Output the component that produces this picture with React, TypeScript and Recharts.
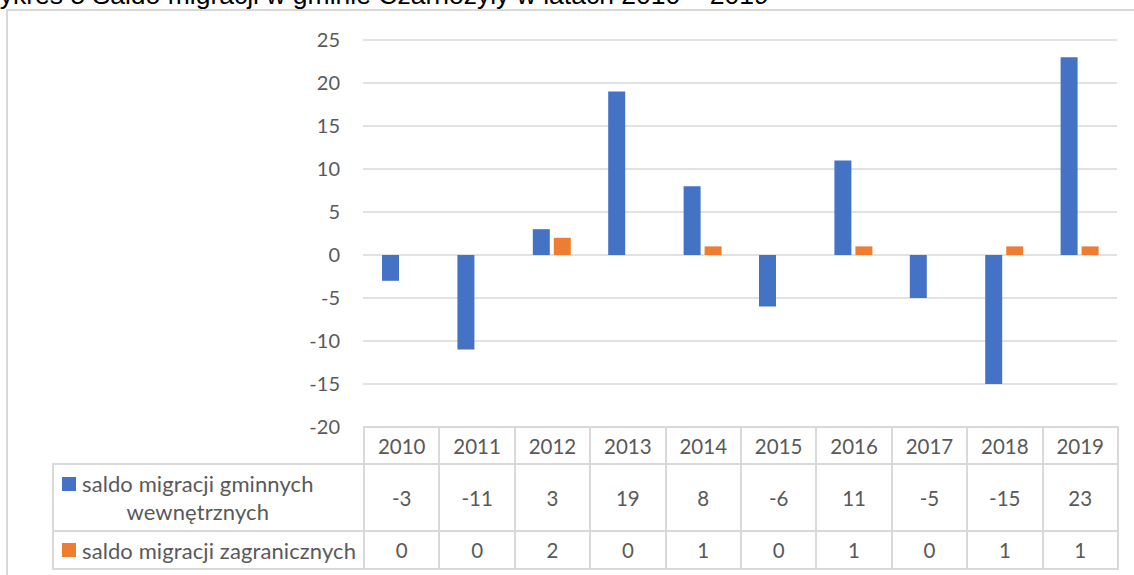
import { BarChart, Bar, XAxis, YAxis, CartesianGrid } from 'recharts';

const years = ['2010', '2011', '2012', '2013', '2014', '2015', '2016', '2017', '2018', '2019'];
const internalBalance = [-3, -11, 3, 19, 8, -6, 11, -5, -15, 23];
const foreignBalance = [0, 0, 2, 0, 1, 0, 1, 0, 1, 1];
const yTicks = [-20, -15, -10, -5, 0, 5, 10, 15, 20, 25];

const internalLabel = ['saldo migracji gminnych', 'wewnętrznych'];
const foreignLabel = 'saldo migracji zagranicznych';
const title = 'Wykres 5 Saldo migracji w gminie Czarnożyły w latach 2010 – 2019';

const BLUE = '#4472C4';
const ORANGE = '#ED7D31';
const GRID = '#d9d9d9';
const TEXT = '#595959';
const FONT = 'Lato, "Open Sans", sans-serif';

const data = years.map((year, i) => ({
  year,
  internal: internalBalance[i],
  foreign: foreignBalance[i],
}));

const COL_W = 75.4;
const LABEL_W = 311;

const cellBorder = `2px solid ${GRID}`;

function Swatch({ color }: { color: string }) {
  return (
    <span
      style={{
        display: 'inline-block',
        width: 14,
        height: 14,
        background: color,
        marginRight: 6,
        flexShrink: 0,
      }}
    />
  );
}

function DataTable() {
  const td = {
    border: cellBorder,
    padding: 0,
    textAlign: 'center' as const,
    verticalAlign: 'middle' as const,
  };
  const labelText = { fontSize: 22, letterSpacing: 0.1 };
  return (
    <table
      style={{
        position: 'absolute',
        left: 52,
        top: 426,
        borderCollapse: 'collapse',
        tableLayout: 'fixed',
        width: LABEL_W + COL_W * years.length,
        fontFamily: FONT,
        fontSize: 20.5,
        color: TEXT,
      }}
    >
      <colgroup>
        <col style={{ width: LABEL_W }} />
        {years.map((y) => (
          <col key={y} style={{ width: COL_W }} />
        ))}
      </colgroup>
      <tbody>
        <tr style={{ height: 37 }}>
          <td style={{ ...td, borderTop: 'hidden', borderLeft: 'hidden' }} />
          {years.map((y) => (
            <td key={y} style={td}>
              {y}
            </td>
          ))}
        </tr>
        <tr style={{ height: 67 }}>
          <td style={{ ...td, textAlign: 'left' }}>
            <div style={{ display: 'flex', alignItems: 'flex-start', paddingLeft: 8, lineHeight: '28px', ...labelText }}>
              <span style={{ marginTop: 7, display: 'flex' }}>
                <Swatch color={BLUE} />
              </span>
              <div style={{ textAlign: 'center' }}>
                {internalLabel[0]}
                <br />
                {internalLabel[1]}
              </div>
            </div>
          </td>
          {internalBalance.map((v, i) => (
            <td key={i} style={td}>
              {v}
            </td>
          ))}
        </tr>
        <tr style={{ height: 38 }}>
          <td style={{ ...td, textAlign: 'left' }}>
            <div style={{ display: 'flex', alignItems: 'center', paddingLeft: 8, whiteSpace: 'nowrap', ...labelText }}>
              <Swatch color={ORANGE} />
              {foreignLabel}
            </div>
          </td>
          {foreignBalance.map((v, i) => (
            <td key={i} style={td}>
              {v}
            </td>
          ))}
        </tr>
      </tbody>
    </table>
  );
}

export default function App() {
  return (
    <div
      style={{
        position: 'absolute',
        left: 0,
        top: 0,
        width: 1134,
        height: 575,
        overflow: 'hidden',
        background: '#fff',
      }}
    >
      <svg width={1134} height={20} style={{ position: 'absolute', left: 0, top: 0 }}>
        <text x={-25} y={4} fontFamily='"Liberation Sans", Arial, sans-serif' fontSize={26.5} fill="#000">
          {title}
        </text>
      </svg>
      <div
        style={{
          position: 'absolute',
          left: 6,
          top: 9,
          width: 1300,
          height: 700,
          border: `2px solid ${GRID}`,
          boxSizing: 'border-box',
        }}
      />
      <div style={{ position: 'absolute', left: 0, top: 0 }}>
        <BarChart
          width={1134}
          height={575}
          data={data}
          margin={{ top: 40, right: 17, bottom: 148, left: 303 }}
          barSize={17}
          barGap={4}
        >
          <CartesianGrid vertical={false} stroke={GRID} strokeWidth={1.5} />
          <XAxis dataKey="year" hide />
          <YAxis
            width={60}
            domain={[-20, 25]}
            ticks={yTicks}
            axisLine={false}
            tickLine={false}
            tickMargin={17}
            tick={{ fill: TEXT, fontSize: 20, fontFamily: FONT }}
          />
          <Bar dataKey="internal" fill={BLUE} isAnimationActive={false} />
          <Bar dataKey="foreign" fill={ORANGE} isAnimationActive={false} />
        </BarChart>
      </div>
      <DataTable />
    </div>
  );
}
